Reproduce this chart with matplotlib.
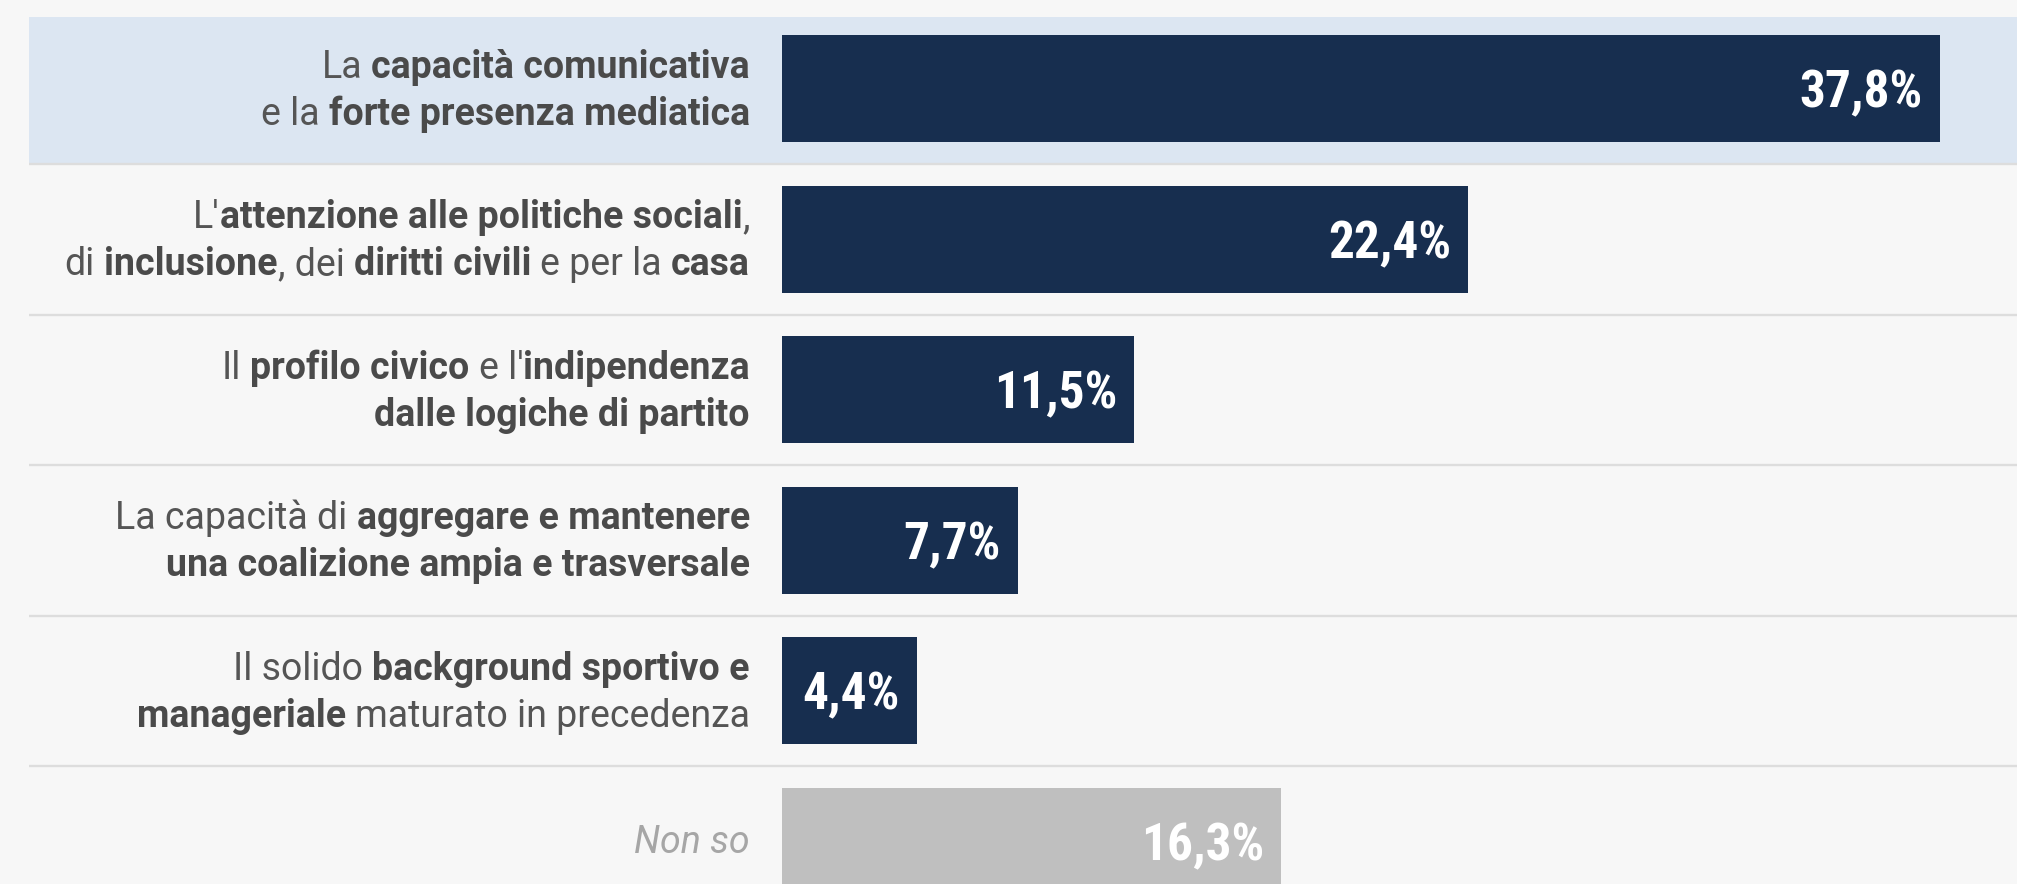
import matplotlib
matplotlib.use("Agg")
import matplotlib.pyplot as plt
from matplotlib.transforms import IdentityTransform
from matplotlib.font_manager import FontProperties

# ---------------- data ----------------
label_lines = [
    ["La **capacità comunicativa**", "e la **forte presenza mediatica**"],
    ["L'**attenzione alle politiche sociali**,", "di **inclusione**, dei **diritti civili** e per la **casa**"],
    ["Il **profilo civico** e l'**indipendenza**", "**dalle logiche di partito**"],
    ["La capacità di **aggregare e mantenere**", "**una coalizione ampia e trasversale**"],
    ["Il solido **background sportivo e**", "**manageriale** maturato in precedenza"],
    ["Non so"],
]
values = [37.8, 22.4, 11.5, 7.7, 4.4, 16.3]
value_labels = ["37,8%", "22,4%", "11,5%", "7,7%", "4,4%", "16,3%"]
is_other = [False, False, False, False, False, True]
highlight_row = 0

# ---------------- style ----------------
W, H = 2017, 884
BG = "#f7f7f7"
BAND = "#dce6f2"
NAVY = "#172e4f"
GREY_BAR = "#bfbfbf"
TXT = "#555555"
TXT_BOLD = "#4a4a4a"
ITAL = "#a6a6a6"
SEP = "#dddddd"

fig = plt.figure(figsize=(W / 100, H / 100), dpi=100, facecolor=BG)
ax = fig.add_axes([0, 0, 1, 1])
ax.set_facecolor("none")
ax.axis("off")

px_per_unit = 30.63
bar_x0 = 782
ax.set_xlim(-bar_x0 / px_per_unit, (W - bar_x0) / px_per_unit)
row_pitch = 150.5
row0 = 88.8
ax.set_ylim((H - row0) / row_pitch, -row0 / row_pitch)

left_frac = 29 / W
x_left = -bar_x0 / px_per_unit + 29 / px_per_unit
x_right = (W - bar_x0) / px_per_unit

# highlight band
ax.axhspan(highlight_row - 0.477, highlight_row + 0.5, xmin=left_frac, xmax=1,
           color=BAND, lw=0, zorder=0)

# separators
n = len(values)
ax.hlines([i + 0.5 for i in range(n - 1)], x_left, x_right, color=SEP, lw=1.7, zorder=1)

# bars
ys = list(range(n))
colors = [GREY_BAR if o else NAVY for o in is_other]
ax.barh(ys, values, height=0.71, color=colors, zorder=2)

# value labels
val_font = ["Roboto Condensed", "Liberation Sans Narrow", "Open Sans Condensed",
            "DejaVu Sans Condensed", "Roboto"]
for y, v, lbl in zip(ys, values, value_labels):
    ax.annotate(lbl, xy=(v, y), xytext=(-17, -19), textcoords="offset pixels",
                ha="right", va="baseline", color="white", fontsize=37,
                fontweight="bold", fontstretch="condensed", family=val_font, zorder=3)

# category labels with mixed bold/regular runs
renderer = fig.canvas.get_renderer()
LFONT = "Roboto"
LSIZE = 27
prop_reg = FontProperties(family=LFONT, size=LSIZE, weight="normal")
prop_bold = FontProperties(family=LFONT, size=LSIZE, weight="bold")
prop_it = FontProperties(family=LFONT, size=LSIZE, style="italic")


def tw(s, prop):
    w, h, d = renderer.get_text_width_height_descent(s, prop, ismath=False)
    return w


def space_w(prop):
    return tw("x x", prop) - tw("xx", prop)


x_anchor = 750
for y, lines, other in zip(ys, label_lines, is_other):
    cy = ax.transData.transform((0, y))[1]
    if len(lines) == 2:
        baselines = [cy + 11, cy - 36]
    else:
        baselines = [cy - 12]
    for line, by in zip(lines, baselines):
        parts = line.split("**")
        runs = [(p, i % 2 == 1) for i, p in enumerate(parts) if p]
        x = x_anchor
        for text, bold in reversed(runs):
            if other:
                prop, col = prop_it, ITAL
            elif bold:
                prop, col = prop_bold, TXT_BOLD
            else:
                prop, col = prop_reg, TXT
            sw = space_w(prop)
            core = text.strip()
            trail = len(text) - len(text.rstrip())
            lead = len(text) - len(text.lstrip())
            x -= trail * sw
            if core:
                fig.text(x, by, core, transform=IdentityTransform(), ha="right",
                         va="baseline", fontproperties=prop, color=col)
                x -= tw(core, prop)
            x -= lead * sw

fig.savefig("out.png", dpi=100, facecolor=BG)
